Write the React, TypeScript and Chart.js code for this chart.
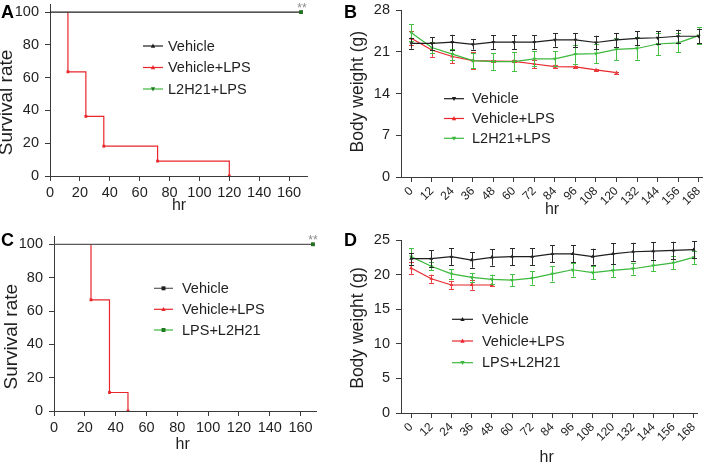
import React, { useEffect, useRef } from "react";
import { Chart, registerables } from "chart.js";

Chart.register(...registerables);

const FONT = "'Liberation Sans', Arial, Helvetica, sans-serif";
const TXT = "#1f1f1f";
const AXIS = "#3a3a3a";
const BLACK = "#1e1e1e";
const RED = "#e8262b";
const GREEN = "#3cb83c";

// ---------- Panel A: survival ----------
const A_NAMES = ["Vehicle", "Vehicle+LPS", "L2H21+LPS"];
const A_VEH_HR = [0, 168];
const A_VEH_SURV = [100, 100];
const A_LPS_HR = [12, 12, 24, 36, 72, 120];
const A_LPS_SURV = [100, 63.6, 36.4, 18.2, 9.1, 0];
const A_L2H21_HR = [0, 168];
const A_L2H21_SURV = [100, 100];

// ---------- Panel C: survival ----------
const C_NAMES = ["Vehicle", "Vehicle+LPS", "LPS+L2H21"];
const C_VEH_HR = [0, 168];
const C_VEH_SURV = [100, 100];
const C_LPS_HR = [24, 24, 36, 48];
const C_LPS_SURV = [100, 66.7, 11.1, 0];
const C_L2H21_HR = [0, 168];
const C_L2H21_SURV = [100, 100];

const SURV_X_TICKS = [0, 20, 40, 60, 80, 100, 120, 140, 160];
const SURV_Y_TICKS = [0, 20, 40, 60, 80, 100];
const STARS = "**";

// ---------- Panel B: body weight ----------
const B_NAMES = ["Vehicle", "Vehicle+LPS", "L2H21+LPS"];
const HOURS = [0, 12, 24, 36, 48, 60, 72, 84, 96, 108, 120, 132, 144, 156, 168];
const B_LPS_HOURS = [0, 12, 24, 36, 48, 60, 72, 84, 96, 108, 120];
const B_VEH = [22.4, 22.4, 22.6, 22.25, 22.6, 22.6, 22.6, 23.0, 23.0, 22.55, 23.0, 23.25, 23.35, 23.6, 23.6];
const B_VEH_ERR = [0.9, 1.05, 1.25, 0.9, 1.2, 1.2, 1.2, 1.15, 1.15, 1.15, 1.15, 1.15, 1.1, 1.1, 1.2];
const B_LPS = [23.25, 21.3, 20.2, 19.5, 19.45, 19.4, 18.95, 18.5, 18.45, 17.95, 17.5];
const B_LPS_ERR = [1.2, 1.15, 1.1, 1.4, 0.2, 0.2, 0.7, 0.2, 0.2, 0.2, 0.15];
const B_L2H21 = [24.2, 21.7, 20.6, 19.5, 19.35, 19.35, 19.8, 19.8, 20.6, 20.7, 21.4, 21.55, 22.3, 22.5, 23.7];
const B_L2H21_ERR = [1.45, 0.9, 0.9, 1.25, 1.4, 1.6, 1.25, 1.25, 1.6, 1.6, 1.85, 1.9, 1.9, 1.6, 1.45];
const B_Y_TICKS = [0, 7, 14, 21, 28];

// ---------- Panel D: body weight ----------
const D_NAMES = ["Vehicle", "Vehicle+LPS", "LPS+L2H21"];
const D_LPS_HOURS = [0, 12, 24, 36, 48];
const D_VEH = [22.3, 22.3, 22.6, 22.1, 22.5, 22.6, 22.6, 23.0, 23.0, 22.6, 23.0, 23.3, 23.4, 23.5, 23.6];
const D_VEH_ERR = [0.85, 1.2, 1.2, 1.1, 1.2, 1.25, 1.2, 1.25, 1.25, 1.15, 1.5, 1.3, 1.25, 1.25, 1.2];
const D_LPS = [20.95, 19.4, 18.5, 18.5, 18.5];
const D_LPS_ERR = [0.85, 0.6, 0.6, 0.7, 0.1];
const D_L2H21 = [22.6, 21.2, 20.1, 19.6, 19.3, 19.2, 19.5, 20.1, 20.7, 20.3, 20.6, 20.85, 21.3, 21.7, 22.5];
const D_L2H21_ERR = [1.25, 0.6, 0.7, 0.65, 0.7, 0.85, 0.95, 1.1, 1.0, 1.0, 1.0, 0.85, 0.85, 0.95, 0.95];
const D_Y_TICKS = [0, 5, 10, 15, 20, 25];

const WEIGHT_X_TICKS = HOURS;

const pts = (xs: number[], ys: number[]) => xs.map((x, i) => ({ x, y: ys[i] }));

// ---------- plugins ----------
function drawMarker(ctx: CanvasRenderingContext2D, style: string, rot: number, x: number, y: number, r: number) {
  ctx.beginPath();
  if (style === "triangle") {
    const d = rot === 180 ? -1 : 1;
    ctx.moveTo(x, y - d * r * 1.1);
    ctx.lineTo(x + r, y + d * r * 0.75);
    ctx.lineTo(x - r, y + d * r * 0.75);
  } else {
    ctx.rect(x - r * 0.9, y - r * 0.9, r * 1.8, r * 1.8);
  }
  ctx.closePath();
  ctx.fill();
}

const errorBarsPlugin = {
  id: "errorBars",
  afterDatasetDraw(chart: any, args: any) {
    const ds = chart.data.datasets[args.index];
    if (!ds.errors) return;
    const ctx = chart.ctx;
    const ys = chart.scales.y;
    ctx.save();
    ctx.strokeStyle = ds.errorColor || ds.borderColor;
    ctx.lineWidth = 1;
    args.meta.data.forEach((el: any, i: number) => {
      const v = ds.data[i].y;
      const e = ds.errors[i];
      if (e == null) return;
      const top = ys.getPixelForValue(v + e);
      const bot = ys.getPixelForValue(v - e);
      const x = Math.round(el.x) + 0.5;
      ctx.beginPath();
      ctx.moveTo(x, top);
      ctx.lineTo(x, bot);
      ctx.moveTo(x - 2.5, Math.round(top) + 0.5);
      ctx.lineTo(x + 2.5, Math.round(top) + 0.5);
      ctx.moveTo(x - 2.5, Math.round(bot) + 0.5);
      ctx.lineTo(x + 2.5, Math.round(bot) + 0.5);
      ctx.stroke();
    });
    ctx.restore();
  },
};

const legendPlugin = {
  id: "customLegend",
  afterDraw(chart: any, _args: any, opts: any) {
    const ctx = chart.ctx;
    ctx.save();
    chart.data.datasets.forEach((ds: any, i: number) => {
      const y = opts.rows[i];
      ctx.strokeStyle = ds.borderColor;
      ctx.lineWidth = 1.2;
      ctx.beginPath();
      ctx.moveTo(opts.x1, y);
      ctx.lineTo(opts.x2, y);
      ctx.stroke();
      ctx.fillStyle = ds.pointBackgroundColor || ds.borderColor;
      drawMarker(ctx, ds.legendMarker || "rect", ds.legendRotation || 0, (opts.x1 + opts.x2) / 2, y, 2.2);
      ctx.fillStyle = TXT;
      ctx.font = `${opts.size}px ${FONT}`;
      ctx.textAlign = "left";
      ctx.textBaseline = "middle";
      ctx.fillText(ds.label, opts.tx, y + 0.5);
    });
    ctx.restore();
  },
};

const titlesPlugin = {
  id: "axisTitles",
  afterDraw(chart: any, _args: any, opts: any) {
    const ctx = chart.ctx;
    ctx.save();
    ctx.fillStyle = TXT;
    ctx.textAlign = "center";
    ctx.textBaseline = "middle";
    if (opts.y) {
      ctx.save();
      ctx.translate(opts.y.cx, opts.y.cy);
      ctx.rotate(-Math.PI / 2);
      ctx.font = `${opts.y.size}px ${FONT}`;
      ctx.fillText(opts.y.text, 0, 0);
      ctx.restore();
    }
    if (opts.x) {
      ctx.font = `${opts.x.size}px ${FONT}`;
      ctx.fillText(opts.x.text, opts.x.cx, opts.x.cy);
    }
    ctx.restore();
  },
};

const starsPlugin = {
  id: "stars",
  afterDraw(chart: any, _args: any, opts: any) {
    if (!opts || !opts.text) return;
    const ctx = chart.ctx;
    const px = chart.scales.x.getPixelForValue(opts.x);
    const py = chart.scales.y.getPixelForValue(opts.y);
    ctx.save();
    ctx.fillStyle = "#8a8a8a";
    ctx.font = `${opts.size}px ${FONT}`;
    ctx.textAlign = "center";
    ctx.textBaseline = "alphabetic";
    ctx.fillText(opts.text, px + opts.dx, py + opts.dy);
    ctx.restore();
  },
};

// ---------- config builder ----------
function axis(spec: any, which: "x" | "y") {
  const s = spec[which];
  const isX = which === "x";
  return {
    type: "linear",
    min: s.min,
    max: s.max,
    bounds: "data",
    afterBuildTicks: (sc: any) => {
      sc.ticks = s.ticks.map((v: number) => ({ value: v }));
    },
    afterFit: (sc: any) => {
      if (isX) {
        sc.height = s.size;
        sc.paddingLeft = 0;
        sc.paddingRight = 0;
      } else {
        sc.width = s.size;
        sc.paddingTop = 0;
        sc.paddingBottom = 0;
      }
    },
    ticks: {
      font: { family: FONT, size: s.font },
      color: TXT,
      padding: s.pad,
      autoSkip: false,
      minRotation: s.rot || 0,
      maxRotation: s.rot || 0,
    },
    grid: {
      drawOnChartArea: false,
      drawTicks: true,
      tickLength: 5,
      tickColor: AXIS,
      tickWidth: 1,
    },
    border: { display: true, color: AXIS, width: 1 },
  };
}

function buildConfig(spec: any) {
  return {
    type: "line",
    data: { datasets: spec.datasets },
    options: {
      responsive: false,
      maintainAspectRatio: false,
      animation: false,
      devicePixelRatio: 1,
      layout: { padding: spec.pad },
      plugins: {
        legend: { display: false },
        tooltip: { enabled: false },
        customLegend: spec.legend,
        axisTitles: spec.titles,
        stars: spec.stars || {},
      },
      scales: { x: axis(spec, "x"), y: axis(spec, "y") },
    },
    plugins: [errorBarsPlugin, legendPlugin, titlesPlugin, starsPlugin],
  };
}

function survDatasets(names: string[], vehX: number[], vehY: number[], lpsX: number[], lpsY: number[], trtX: number[], trtY: number[], vehColor: string, vehMarker: string, trtMarker: string, trtRot: number) {
  return [
    {
      label: names[0],
      data: pts(vehX, vehY),
      borderColor: vehColor,
      backgroundColor: vehColor,
      pointBackgroundColor: BLACK,
      borderWidth: 1.2,
      pointRadius: [0, 2.5],
      pointStyle: "rect",
      pointBorderWidth: 0,
      legendMarker: vehMarker,
      legendRotation: 0,
      order: 1,
    },
    {
      label: names[1],
      data: pts(lpsX, lpsY),
      borderColor: RED,
      backgroundColor: RED,
      pointBackgroundColor: RED,
      borderWidth: 1.2,
      stepped: "before",
      pointRadius: lpsX.map((_, i) => (i === 0 ? 0 : 2)),
      pointStyle: "rect",
      pointBorderWidth: 0,
      legendMarker: "triangle",
      legendRotation: 0,
      order: 2,
    },
    {
      label: names[2],
      data: pts(trtX, trtY),
      borderColor: GREEN,
      backgroundColor: GREEN,
      pointBackgroundColor: "#1f7a1f",
      borderWidth: 1.2,
      showLine: false,
      pointRadius: [0, 2.5],
      pointStyle: "rect",
      pointBorderWidth: 0,
      legendMarker: trtMarker,
      legendRotation: trtRot,
      order: 0,
    },
  ];
}

function weightDatasets(names: string[], veh: number[], vehErr: number[], vehStyle: [string, number], lpsHours: number[], lps: number[], lpsErr: number[], trt: number[], trtErr: number[]) {
  return [
    {
      label: names[0],
      data: pts(HOURS, veh),
      errors: vehErr,
      errorColor: "#2a2a2a",
      borderColor: BLACK,
      backgroundColor: BLACK,
      pointBackgroundColor: BLACK,
      borderWidth: 1.2,
      pointRadius: 2.2,
      pointStyle: vehStyle[0],
      pointRotation: vehStyle[1],
      pointBorderWidth: 0,
      legendMarker: vehStyle[0],
      legendRotation: vehStyle[1],
      order: 0,
    },
    {
      label: names[1],
      data: pts(lpsHours, lps),
      errors: lpsErr,
      errorColor: "#e84040",
      borderColor: RED,
      backgroundColor: RED,
      pointBackgroundColor: RED,
      borderWidth: 1.2,
      pointRadius: 2.2,
      pointStyle: "triangle",
      pointRotation: 0,
      pointBorderWidth: 0,
      legendMarker: "triangle",
      legendRotation: 0,
      order: 2,
    },
    {
      label: names[2],
      data: pts(HOURS, trt),
      errors: trtErr,
      errorColor: "#44c044",
      borderColor: GREEN,
      backgroundColor: GREEN,
      pointBackgroundColor: GREEN,
      borderWidth: 1.2,
      pointRadius: 2.2,
      pointStyle: "triangle",
      pointRotation: 180,
      pointBorderWidth: 0,
      legendMarker: "triangle",
      legendRotation: 180,
      order: 1,
    },
  ];
}

const SPEC_A = {
  pad: { top: 2, right: 47, bottom: 0, left: 0 },
  x: { min: 0, max: 172, ticks: SURV_X_TICKS, size: 44, font: 14.5, pad: 3 },
  y: { min: 0, max: 105, ticks: SURV_Y_TICKS, size: 50, font: 14.5, pad: 6 },
  datasets: survDatasets(A_NAMES, A_VEH_HR, A_VEH_SURV, A_LPS_HR, A_LPS_SURV, A_L2H21_HR, A_L2H21_SURV, BLACK, "triangle", "triangle", 180),
  legend: { x1: 143, x2: 163, tx: 168, rows: [46, 67.5, 89], size: 14.5 },
  titles: { y: { text: "Survival rate", cx: 7, cy: 102.5, size: 19 }, x: { text: "hr", cx: 179, cy: 206, size: 16 } },
  stars: { text: STARS, x: 168, y: 100, dx: 1, dy: 0, size: 12 },
};

const SPEC_C = {
  pad: { top: 16, right: 38, bottom: 0, left: 0 },
  x: { min: 0, max: 170, ticks: SURV_X_TICKS, size: 53, font: 14.5, pad: 3 },
  y: { min: 0, max: 105, ticks: SURV_Y_TICKS, size: 54, font: 14.5, pad: 6 },
  datasets: survDatasets(C_NAMES, C_VEH_HR, C_VEH_SURV, C_LPS_HR, C_LPS_SURV, C_L2H21_HR, C_L2H21_SURV, "#5a5a5a", "rect", "rect", 0),
  legend: { x1: 154, x2: 173, tx: 182, rows: [68.3, 89.3, 110], size: 14.5 },
  titles: { y: { text: "Survival rate", cx: 11.7, cy: 116.7, size: 19 }, x: { text: "hr", cx: 182.7, cy: 225, size: 16 } },
  stars: { text: STARS, x: 168, y: 100, dx: 0, dy: 0, size: 12 },
};

const SPEC_B = {
  pad: { top: 10, right: 7, bottom: 0, left: 0 },
  x: { min: -6, max: 170, ticks: WEIGHT_X_TICKS, size: 43, font: 12, pad: 2, rot: 45 },
  y: { min: 0, max: 28, ticks: B_Y_TICKS, size: 56, font: 14.5, pad: 6 },
  datasets: weightDatasets(B_NAMES, B_VEH, B_VEH_ERR, ["triangle", 180], B_LPS_HOURS, B_LPS, B_LPS_ERR, B_L2H21, B_L2H21_ERR),
  legend: { x1: 99, x2: 119, tx: 127, rows: [98.7, 118.5, 138.3], size: 14.5 },
  titles: { y: { text: "Body weight (g)", cx: 12.8, cy: 91.7, size: 17.5 }, x: { text: "hr", cx: 207, cy: 209.5, size: 16 } },
};

const SPEC_D = {
  pad: { top: 20, right: 12, bottom: 0, left: 0 },
  x: { min: -6, max: 170, ticks: WEIGHT_X_TICKS, size: 51, font: 12, pad: 2, rot: 45 },
  y: { min: 0, max: 25, ticks: D_Y_TICKS, size: 56, font: 14.5, pad: 6 },
  datasets: weightDatasets(D_NAMES, D_VEH, D_VEH_ERR, ["triangle", 0], D_LPS_HOURS, D_LPS, D_LPS_ERR, D_L2H21, D_L2H21_ERR),
  legend: { x1: 107, x2: 128, tx: 137, rows: [99.3, 121, 142.7], size: 14.5 },
  titles: { y: { text: "Body weight (g)", cx: 12.8, cy: 108, size: 17.5 }, x: { text: "hr", cx: 201.7, cy: 238, size: 16 } },
};

function Panel({ spec, left, top, width, height }: any) {
  const ref = useRef<HTMLCanvasElement | null>(null);
  useEffect(() => {
    if (!ref.current) return;
    const chart = new Chart(ref.current, buildConfig(spec) as any);
    return () => chart.destroy();
  }, [spec]);
  return (
    <canvas
      ref={ref}
      width={width}
      height={height}
      style={{ position: "absolute", left, top, width, height }}
    />
  );
}

const letterStyle = (left: number, top: number): React.CSSProperties => ({
  position: "absolute",
  left,
  top,
  font: `bold 18px ${FONT}`,
  lineHeight: "18px",
  color: "#000",
});

export default function App() {
  return (
    <div style={{ position: "absolute", left: 0, top: 0, width: 709, height: 464, background: "#fff", overflow: "hidden" }}>
      <Panel spec={SPEC_A} left={0} top={0} width={354} height={220} />
      <Panel spec={SPEC_B} left={345} top={0} width={364} height={220} />
      <Panel spec={SPEC_C} left={0} top={220} width={354} height={244} />
      <Panel spec={SPEC_D} left={345} top={220} width={364} height={244} />
      <div style={letterStyle(1, 3)}>A</div>
      <div style={letterStyle(344, 3)}>B</div>
      <div style={letterStyle(1, 231)}>C</div>
      <div style={letterStyle(344, 231)}>D</div>
    </div>
  );
}
